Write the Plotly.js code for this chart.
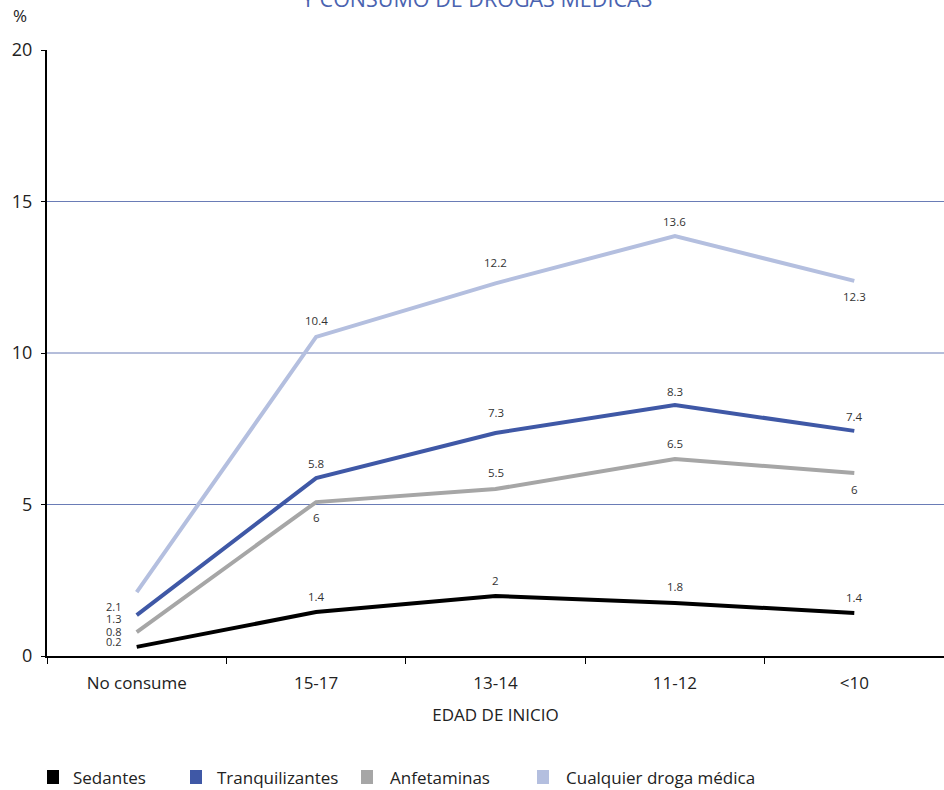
<!DOCTYPE html>
<html>
<head>
<meta charset="utf-8">
<script src="https://cdn.plot.ly/plotly-3.0.1.min.js"></script>
<style>html,body{margin:0;padding:0;background:#fff;}#chart{width:944px;height:790px;}</style>
</head>
<body>
<div id="chart"></div>
<script>
// ---- Data ----
const categories = ["No consume", "15-17", "13-14", "11-12", "<10"];
const seriesNames = ["Sedantes", "Tranquilizantes", "Anfetaminas", "Cualquier droga médica"];
const sedantes = [0.3, 1.45, 1.98, 1.75, 1.42];
const tranquilizantes = [1.35, 5.87, 7.36, 8.28, 7.43];
const anfetaminas = [0.79, 5.08, 5.51, 6.5, 6.04];
const cualquier = [2.11, 10.53, 12.3, 13.86, 12.38];
const sedantesLabels = ["0.2", "1.4", "2", "1.8", "1.4"];
const tranquilizantesLabels = ["1.3", "5.8", "7.3", "8.3", "7.4"];
const anfetaminasLabels = ["0.8", "6", "5.5", "6.5", "6"];
const cualquierLabels = ["2.1", "10.4", "12.2", "13.6", "12.3"];
const yTicks = [0, 5, 10, 15, 20];
const gridValues = [5, 10, 15];

// ---- Styles ----
const colors = ["#000000", "#3f58a6", "#a6a6a6", "#b4bfdf"];
const seriesValues = [sedantes, tranquilizantes, anfetaminas, cualquier];
const seriesLabels = [sedantesLabels, tranquilizantesLabels, anfetaminasLabels, cualquierLabels];
// label offsets in pixels (xshift, yshift) per series per point
const labelShifts = [
  [[-23, 5], [0, 16], [0, 16], [0, 16], [0, 15]],
  [[-23, -3], [0, 15], [0, 20], [0, 14], [0, 14]],
  [[-23, 1], [0, -15], [0, 17], [0, 16], [0, -17]],
  [[-23, -14], [0, 16], [0, 21], [0, 15], [0, -16]]
];

const FONT = "Open Sans, Noto Sans, sans-serif";
const PL = 47, PT = 50, PW = 897, PH = 606;
const px2x = px => (px - PL) / PW;
const px2y = py => (PT + PH - py) / PH;

const traces = seriesValues.map((vals, i) => ({
  type: "scatter",
  mode: "lines",
  x: categories,
  y: vals,
  name: seriesNames[i],
  line: {color: colors[i], width: 4},
  showlegend: false,
  hoverinfo: "skip"
}));

const annotations = [];
seriesValues.forEach((vals, i) => {
  vals.forEach((v, j) => {
    annotations.push({
      x: categories[j], y: v, xref: "x", yref: "y",
      text: seriesLabels[i][j], showarrow: false,
      xshift: labelShifts[i][j][0], yshift: labelShifts[i][j][1],
      font: {family: FONT, size: j === 0 ? 11 : 11.5, color: "#333333"}
    });
  });
});

// title fragment and % label
annotations.push({
  xref: "paper", yref: "paper", x: px2x(477), y: px2y(15), yanchor: "bottom", xanchor: "center",
  text: "Y CONSUMO DE DROGAS MÉDICAS", showarrow: false,
  font: {family: FONT, size: 21.5, color: "#4a63b0"}
});
annotations.push({
  xref: "paper", yref: "paper", x: px2x(20), y: px2y(15), xanchor: "center", yanchor: "middle",
  text: "%", showarrow: false, font: {family: FONT, size: 17, color: "#222222"}
});

// legend
const legendSquareX = [47, 190, 361, 537];
const legendTextX = [71, 215, 388, 564];
const shapes = [];
seriesNames.forEach((n, i) => {
  shapes.push({
    type: "rect", xref: "paper", yref: "paper",
    x0: px2x(legendSquareX[i]), x1: px2x(legendSquareX[i] + 12),
    y0: px2y(770), y1: px2y(784),
    fillcolor: colors[i], line: {width: 0}
  });
  annotations.push({
    xref: "paper", yref: "paper", x: px2x(legendTextX[i]), y: px2y(777),
    xanchor: "left", yanchor: "middle", text: n, showarrow: false,
    font: {family: FONT, size: 17, color: "#222222"}
  });
});

// gridlines
gridValues.forEach(g => {
  shapes.push({
    type: "line", xref: "paper", yref: "y", x0: 0, x1: 1, y0: g, y1: g,
    line: {color: "#6a7cb6", width: 1}, layer: "below"
  });
});

const layout = {
  width: 944, height: 790,
  margin: {l: PL, r: 0, t: PT, b: 790 - PT - PH},
  paper_bgcolor: "#ffffff", plot_bgcolor: "#ffffff",
  showlegend: false,
  font: {family: FONT, color: "#222222"},
  xaxis: {
    type: "category", range: [-0.5, 4.5],
    showline: true, linecolor: "#000000", linewidth: 2,
    ticks: "outside", tickson: "boundaries", ticklen: 6, tickwidth: 1, tickcolor: "#000000",
    showgrid: false, zeroline: false,
    tickfont: {family: FONT, size: 17, color: "#222222"},
    ticklabelstandoff: 11,
    title: {text: "EDAD DE INICIO", font: {family: FONT, size: 17, color: "#222222"}, standoff: 16}
  },
  yaxis: {
    range: [0, 20], tickvals: yTicks, ticktext: yTicks.map(String),
    showline: true, linecolor: "#000000", linewidth: 2,
    ticks: "outside", ticklen: 4, tickwidth: 1, tickcolor: "#000000",
    showgrid: false, zeroline: false,
    tickfont: {family: FONT, size: 18, color: "#222222"},
    ticklabelstandoff: 5
  },
  shapes: shapes,
  annotations: annotations
};

Plotly.newPlot("chart", traces, layout, {displayModeBar: false, staticPlot: true});
</script>
</body>
</html>
